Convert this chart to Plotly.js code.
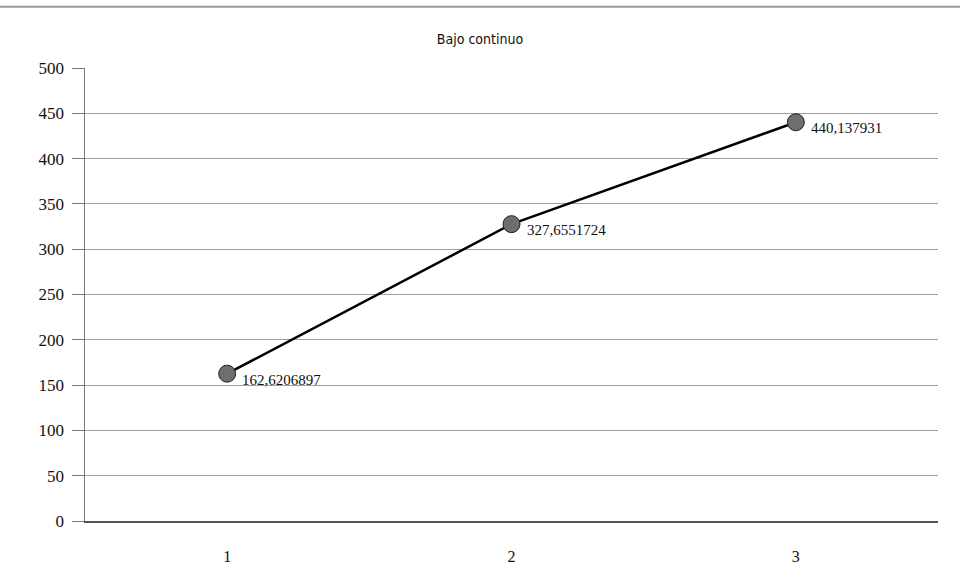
<!DOCTYPE html>
<html><head><meta charset="utf-8">
<script src="https://cdn.plot.ly/plotly-3.0.1.min.js"></script>
<style>body{margin:0;background:#fff}#c{width:960px;height:578px}</style>
</head><body><div id="c"></div>
<script>
const categories = ['1', '2', '3'];
const values = [162.6206897, 327.6551724, 440.137931];
const labels = values.map(v => String(v).replace('.', ','));
const yTicks = [0, 50, 100, 150, 200, 250, 300, 350, 400, 450, 500];

const trace = {
  x: categories, y: values, type: 'scatter', mode: 'lines+markers',
  line: {color: '#000', width: 2.5},
  marker: {size: 17, color: '#6e6e6e', line: {color: '#222', width: 1}},
  cliponaxis: false, hoverinfo: 'none'
};
const annotations = categories.map((c, i) => ({
  x: i, y: values[i], xref: 'x', yref: 'y', text: labels[i], showarrow: false,
  xanchor: 'left', yanchor: 'middle', xshift: 13, yshift: -6,
  font: {family: 'Liberation Serif, serif', size: 15, color: '#111'}
}));
const layout = {
  width: 960, height: 578,
  margin: {l: 85, r: 22, t: 68, b: 57},
  paper_bgcolor: '#fff', plot_bgcolor: '#fff',
  showlegend: false,
  title: {text: 'Bajo continuo', x: 0.5, xanchor: 'center', y: 0.932, yanchor: 'middle',
    font: {family: 'DejaVu Sans Condensed, sans-serif', size: 14, color: '#111'}},
  xaxis: {type: 'category', range: [-0.5, 2.5], showgrid: false, zeroline: false,
    showline: true, linecolor: '#555', linewidth: 1.5, ticks: '', ticklabelstandoff: 20,
    tickfont: {family: 'Liberation Serif, serif', size: 16, color: '#111'}, fixedrange: true},
  yaxis: {range: [0, 500], tickvals: yTicks, ticktext: yTicks.map(String),
    showgrid: true, gridcolor: '#a0a0a0', gridwidth: 1, zeroline: false,
    showline: true, linecolor: '#777', linewidth: 1.5, ticks: 'outside', ticklen: 12, tickcolor: '#777',
    ticklabelstandoff: 4,
    tickfont: {family: 'Liberation Serif, serif', size: 17, color: '#111'}, fixedrange: true},
  annotations: annotations,
  shapes: [{type: 'line', xref: 'paper', yref: 'paper', x0: -0.1, x1: 1.03, y0: 1.135, y1: 1.135,
    line: {color: '#999', width: 2}}]
};
Plotly.newPlot('c', [trace], layout, {displayModeBar: false, staticPlot: true});
</script></body></html>
